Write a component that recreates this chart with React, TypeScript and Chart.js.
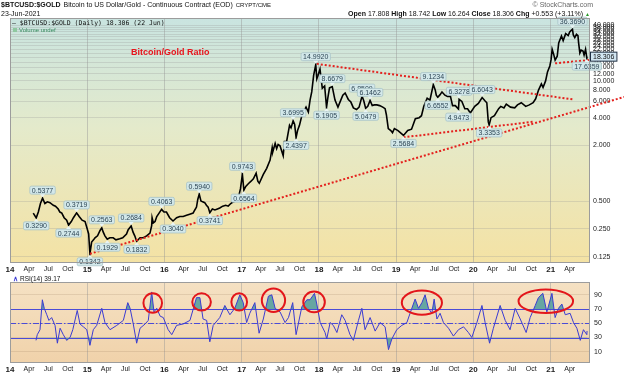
import React, { useEffect, useRef } from 'react';
import { Chart, registerables } from 'chart.js';

Chart.register(...registerables);

const FONT = "'Liberation Sans', Arial, sans-serif";
const MONO = "'DejaVu Sans Mono', 'Liberation Mono', monospace";

// ---------- axis ranges & ticks ----------
const X_START = '2014-01-01';
const X_END = '2021-07-06';
const PRICE_MIN = 0.108;
const PRICE_MAX = 48;
const RSI_MIN = -5.4;
const RSI_MAX = 107.7;

const xTickDates = [
  '2014-01-01', '2014-04-01', '2014-07-01', '2014-10-01',
  '2015-01-01', '2015-04-01', '2015-07-01', '2015-10-01',
  '2016-01-01', '2016-04-01', '2016-07-01', '2016-10-01',
  '2017-01-01', '2017-04-01', '2017-07-01', '2017-10-01',
  '2018-01-01', '2018-04-01', '2018-07-01', '2018-10-01',
  '2019-01-01', '2019-04-01', '2019-07-01', '2019-10-01',
  '2020-01-01', '2020-04-01', '2020-07-01', '2020-10-01',
  '2021-01-01', '2021-04-01',
];
const xTickLabels = [
  '14', 'Apr', 'Jul', 'Oct', '15', 'Apr', 'Jul', 'Oct',
  '16', 'Apr', 'Jul', 'Oct', '17', 'Apr', 'Jul', 'Oct',
  '18', 'Apr', 'Jul', 'Oct', '19', 'Apr', 'Jul', 'Oct',
  '20', 'Apr', 'Jul', 'Oct', '21', 'Apr',
];
const priceTickValues = [0.125, 0.25, 0.5, 2, 4, 6, 8, 10, 12, 14, 16, 18, 20, 22, 24, 26, 28, 30, 32, 34, 36, 38, 40];
const rsiTickValues = [10, 30, 50, 70, 90];

// ---------- price series (BTC / Gold ratio) ----------
const priceDates = [
  '2014-04-21', '2014-05-05', '2014-05-15', '2014-05-25', '2014-06-04', '2014-06-15', '2014-06-27', '2014-07-09',
  '2014-07-25', '2014-08-04', '2014-08-17', '2014-08-25', '2014-09-03', '2014-09-14', '2014-09-26', '2014-10-05',
  '2014-10-18', '2014-10-28', '2014-11-12', '2014-11-24', '2014-12-08', '2014-12-22', '2014-12-30',
  '2015-01-08', '2015-01-14', '2015-01-22', '2015-01-31', '2015-02-07', '2015-02-19', '2015-03-03', '2015-03-11',
  '2015-03-18', '2015-03-26', '2015-04-06', '2015-04-18', '2015-05-04', '2015-05-17', '2015-06-04', '2015-06-18',
  '2015-07-06', '2015-07-14', '2015-07-28', '2015-08-06', '2015-08-14', '2015-08-23', '2015-09-08', '2015-09-24',
  '2015-10-09', '2015-10-25', '2015-11-02', '2015-11-04', '2015-11-10', '2015-11-18', '2015-11-26', '2015-12-07',
  '2015-12-19', '2015-12-30',
  '2016-01-11', '2016-01-26', '2016-02-11', '2016-02-28', '2016-03-14', '2016-03-30', '2016-04-15', '2016-04-30',
  '2016-05-16', '2016-05-24', '2016-06-01', '2016-06-07', '2016-06-14', '2016-06-22', '2016-06-30', '2016-07-10',
  '2016-07-18', '2016-07-26', '2016-08-03', '2016-08-15', '2016-08-27', '2016-09-08', '2016-09-19', '2016-10-03',
  '2016-10-17', '2016-10-29', '2016-11-10', '2016-11-22', '2016-12-05', '2016-12-16', '2016-12-26',
  '2017-01-04', '2017-01-11', '2017-01-20', '2017-02-01', '2017-02-14', '2017-02-25', '2017-03-10', '2017-03-18',
  '2017-03-25', '2017-04-13', '2017-04-29', '2017-05-15', '2017-05-25', '2017-05-28', '2017-06-08', '2017-06-15',
  '2017-06-22', '2017-07-01', '2017-07-16', '2017-07-22', '2017-08-01', '2017-08-15', '2017-08-22', '2017-09-01',
  '2017-09-08', '2017-09-15', '2017-09-22', '2017-10-01', '2017-10-12', '2017-10-20', '2017-11-01', '2017-11-12',
  '2017-11-20', '2017-11-28', '2017-12-07', '2017-12-17', '2017-12-22', '2017-12-28',
  '2018-01-06', '2018-01-17', '2018-01-28', '2018-02-06', '2018-02-12', '2018-02-20', '2018-03-05', '2018-03-18',
  '2018-04-01', '2018-04-12', '2018-04-24', '2018-05-05', '2018-05-20', '2018-06-01', '2018-06-13', '2018-06-28',
  '2018-07-10', '2018-07-24', '2018-08-01', '2018-08-10', '2018-08-20', '2018-08-31', '2018-09-10', '2018-09-20',
  '2018-10-02', '2018-10-15', '2018-10-30', '2018-11-10', '2018-11-16', '2018-11-25', '2018-12-07', '2018-12-15',
  '2018-12-24',
  '2019-01-10', '2019-02-05', '2019-02-25', '2019-03-15', '2019-04-02', '2019-04-20', '2019-05-01', '2019-05-12',
  '2019-05-28', '2019-06-10', '2019-06-26', '2019-07-05', '2019-07-10', '2019-07-17', '2019-07-28', '2019-08-06',
  '2019-08-20', '2019-09-01', '2019-09-15', '2019-09-25', '2019-10-08', '2019-10-23', '2019-10-26', '2019-11-08',
  '2019-11-22', '2019-12-05', '2019-12-18',
  '2020-01-08', '2020-01-25', '2020-02-12', '2020-02-25', '2020-03-05', '2020-03-12', '2020-03-16', '2020-03-25',
  '2020-04-10', '2020-04-30', '2020-05-10', '2020-05-25', '2020-06-05', '2020-06-25', '2020-07-15', '2020-07-28',
  '2020-08-15', '2020-09-05', '2020-09-22', '2020-10-10', '2020-10-22', '2020-11-05', '2020-11-18', '2020-11-26',
  '2020-12-08', '2020-12-17', '2020-12-28',
  '2021-01-03', '2021-01-08', '2021-01-15', '2021-01-22', '2021-02-01', '2021-02-08', '2021-02-21', '2021-03-01',
  '2021-03-13', '2021-03-25', '2021-04-01', '2021-04-14', '2021-04-18', '2021-04-25', '2021-05-03', '2021-05-10',
  '2021-05-13', '2021-05-19', '2021-05-25', '2021-06-03', '2021-06-08', '2021-06-15', '2021-06-21', '2021-06-22',
];
const priceValues = [
  0.37, 0.329, 0.38, 0.47, 0.5377, 0.47, 0.49, 0.48,
  0.45, 0.44, 0.41, 0.38, 0.37, 0.33, 0.31, 0.2744,
  0.30, 0.33, 0.3719, 0.34, 0.31, 0.30, 0.26,
  0.22, 0.1342, 0.18, 0.19, 0.20, 0.21, 0.24, 0.2563,
  0.23, 0.21, 0.1929, 0.20, 0.20, 0.19, 0.195, 0.20,
  0.22, 0.245, 0.2684, 0.23, 0.21, 0.1832, 0.20, 0.20,
  0.21, 0.225, 0.27, 0.33, 0.29, 0.30, 0.34, 0.37,
  0.4063, 0.38,
  0.38, 0.33, 0.304, 0.33, 0.34, 0.34, 0.35, 0.36,
  0.37, 0.40, 0.43, 0.52, 0.594, 0.50, 0.49, 0.48,
  0.45, 0.43, 0.3741, 0.41, 0.40, 0.41, 0.42, 0.44,
  0.45, 0.44, 0.47, 0.49, 0.50, 0.54, 0.68,
  0.9743, 0.6564, 0.72, 0.77, 0.82, 0.87, 1.0, 0.82,
  0.78, 0.97, 1.13, 1.39, 1.90, 1.71, 2.1, 1.85,
  2.05, 1.98, 1.55, 2.2, 2.2, 3.3, 3.1, 3.6995,
  3.4, 2.4397, 2.9, 3.3, 4.2, 4.6, 5.2, 4.6,
  6.2, 7.6, 11.5, 14.992, 10.5, 11.5,
  13.4, 8.3, 8.8, 5.1905, 6.5, 8.4, 8.6679, 6.2,
  5.2, 6.0, 7.0, 7.4, 6.3, 5.9, 5.1, 4.9,
  5.2, 6.8509, 6.1, 5.0479, 5.3, 6.1462, 5.4, 5.5,
  5.5, 5.4, 5.2, 5.0, 4.3, 3.05, 2.9, 2.75,
  3.05,
  2.9, 2.5684, 2.9, 3.0, 3.9, 4.0, 4.2, 5.3,
  6.5, 6.2, 9.1234, 8.0, 7.0, 6.6552, 7.1, 7.6,
  7.0, 6.8, 6.8, 5.4, 5.4, 4.9473, 6.3278, 6.0,
  5.0, 5.0, 4.5,
  5.3, 5.7, 6.6043, 6.1, 5.8, 3.6, 3.3353, 4.0,
  4.2, 5.0, 5.3, 5.1, 5.6, 5.2, 5.1, 5.5,
  5.8, 5.3, 5.5, 5.8, 6.4, 8.0, 9.3, 8.5,
  10.0, 12.5, 14.5,
  17.0, 22.0, 19.5, 16.8, 18.5, 25.8, 30.6, 27.3,
  32.5, 31.0, 34.0, 36.369, 31.5, 29.5, 32.0, 31.0,
  26.0, 20.0, 21.5, 21.0, 19.0, 22.0, 17.6359, 18.306,
];

// ---------- RSI(14) series ----------
const rsiDates = [
  '2014-05-04', '2014-05-10', '2014-05-23', '2014-06-03', '2014-06-12', '2014-06-24', '2014-07-04', '2014-07-17',
  '2014-08-02', '2014-08-13', '2014-08-26', '2014-09-10', '2014-09-26', '2014-10-12', '2014-10-25', '2014-11-15',
  '2014-11-28', '2014-12-14', '2014-12-30',
  '2015-01-14', '2015-01-30', '2015-02-15', '2015-03-11', '2015-03-26', '2015-04-19', '2015-05-21', '2015-06-21',
  '2015-07-12', '2015-07-23', '2015-08-07', '2015-08-23', '2015-09-08', '2015-10-02', '2015-10-17', '2015-11-02',
  '2015-11-13', '2015-11-26', '2015-12-12', '2015-12-27',
  '2016-01-19', '2016-02-05', '2016-02-28', '2016-03-30', '2016-05-01', '2016-06-01', '2016-06-17', '2016-07-02',
  '2016-07-19', '2016-08-03', '2016-08-19', '2016-09-19', '2016-10-13', '2016-11-06', '2016-11-29', '2016-12-23',
  '2017-01-08', '2017-01-24', '2017-02-08', '2017-03-04', '2017-03-24', '2017-04-13', '2017-05-07', '2017-05-23',
  '2017-06-08', '2017-07-01', '2017-07-25', '2017-08-10', '2017-08-30', '2017-09-15', '2017-10-12', '2017-11-05',
  '2017-11-20', '2017-12-11', '2017-12-22',
  '2018-01-07', '2018-01-30', '2018-02-07', '2018-02-23', '2018-03-10', '2018-03-27', '2018-04-19', '2018-05-05',
  '2018-05-28', '2018-06-13', '2018-07-07', '2018-07-23', '2018-08-07', '2018-08-31', '2018-09-24', '2018-10-17',
  '2018-11-10', '2018-11-26', '2018-12-12',
  '2019-01-04', '2019-01-28', '2019-02-21', '2019-03-08', '2019-04-01', '2019-04-17', '2019-05-03', '2019-05-18',
  '2019-06-03', '2019-06-19', '2019-06-30', '2019-07-13', '2019-07-28', '2019-08-13', '2019-09-06', '2019-09-29',
  '2019-10-23', '2019-11-16', '2019-12-09', '2019-12-25',
  '2020-01-18', '2020-02-11', '2020-02-26', '2020-03-18', '2020-04-05', '2020-05-07', '2020-05-31', '2020-06-23',
  '2020-07-17', '2020-08-10', '2020-09-07', '2020-09-26', '2020-10-20', '2020-11-04', '2020-11-25', '2020-12-14',
  '2021-01-07', '2021-01-22', '2021-02-07', '2021-02-23', '2021-03-11', '2021-04-03', '2021-04-19', '2021-05-05',
  '2021-05-21', '2021-06-05', '2021-06-21', '2021-06-22',
];
const rsiValues = [
  26, 34, 41, 83, 71, 62, 54, 58,
  47, 22, 43, 34, 26, 30, 41, 68,
  49, 45, 41,
  19, 41, 47, 71, 51, 41, 47, 54,
  79, 71, 49, 22, 43, 49, 54, 94,
  66, 71, 60, 58,
  41, 34, 47, 49, 54, 86, 86, 56,
  54, 24, 47, 58, 75, 62, 71, 90,
  79, 51, 64, 79, 36, 56, 88, 90,
  71, 66, 51, 58, 79, 34, 73, 83,
  83, 92, 77,
  51, 37, 28, 51, 47, 37, 62, 54,
  34, 26, 54, 71, 41, 58, 39, 51,
  45, 13, 28,
  41, 47, 51, 64, 84, 71, 79, 90,
  71, 64, 84, 56, 64, 51, 43, 32,
  41, 45, 37, 30,
  51, 75, 51, 22, 43, 75, 54, 41,
  71, 56, 37, 58, 75, 86, 92, 66,
  92, 58, 71, 77, 62, 64, 51, 43,
  26, 41, 34, 39.17,
];

// ---------- price tags (peaks / troughs) ----------
const tagDates = [
  '2014-06-04', '2014-05-05', '2014-10-05', '2014-11-12', '2015-01-14', '2015-03-11', '2015-04-06', '2015-07-28',
  '2015-08-23', '2015-12-19', '2016-02-11', '2016-06-14', '2016-08-03', '2017-01-04', '2017-01-11', '2017-09-01',
  '2017-09-15', '2017-12-17', '2018-02-06', '2018-03-05', '2018-07-24', '2018-08-10', '2018-08-31', '2019-02-05',
  '2019-06-26', '2019-07-17', '2019-10-23', '2019-10-26', '2020-02-12', '2020-03-16', '2021-04-14', '2021-06-21',
];
const tagValues = [
  0.5377, 0.329, 0.2744, 0.3719, 0.1342, 0.2563, 0.1929, 0.2684,
  0.1832, 0.4063, 0.304, 0.594, 0.3741, 0.9743, 0.6564, 3.6995,
  2.4397, 14.992, 5.1905, 8.6679, 6.8509, 5.0479, 6.1462, 2.5684,
  9.1234, 6.6552, 4.9473, 6.3278, 6.6043, 3.3353, 36.369, 17.6359,
];
const tagSides = [
  'above', 'below', 'below', 'above', 'below', 'above', 'below', 'above',
  'below', 'above', 'below', 'above', 'below', 'above', 'below', 'above',
  'below', 'above', 'below', 'above', 'above', 'below', 'above', 'below',
  'above', 'below', 'below', 'above', 'above', 'below', 'above', 'below',
];

// ---------- trend lines (start date, start value, end date, end value) ----------
const trendStartDates = ['2017-12-22', '2015-01-14', '2019-02-05', '2021-01-22'];
const trendStartValues = [15.3, 0.1342, 2.45, 15.5];
const trendEndDates = ['2021-04-17', '2021-12-14', '2020-10-12', '2021-08-13'];
const trendEndValues = [6.3, 6.7, 3.62, 17.2];

// ---------- red ellipses on RSI (center date, center RSI, half-width days, half-height RSI) ----------
const circleDates = ['2015-11-07', '2016-06-25', '2016-12-20', '2017-05-31', '2017-12-09', '2019-05-03', '2020-12-09'];
const circleRsi = [78.5, 80, 80, 82.3, 80, 79, 81];
const circleHalfDays = [44, 44, 37, 55, 51, 95, 129];
const circleHalfRsi = [13.7, 12, 12.2, 16.4, 14.5, 17, 16.4];

const LAST_VALUE = 18.306;

// ---------- helpers ----------
const dayOf = (s: string) => {
  const [y, m, d] = s.split('-').map(Number);
  return Date.UTC(y, m - 1, d) / 86400000;
};

const xScale = (height: number) => ({
  type: 'linear' as const,
  min: dayOf(X_START),
  max: dayOf(X_END),
  afterBuildTicks: (scale: any) => {
    scale.ticks = xTickDates.map((d, i) => ({ value: dayOf(d), major: /^\d+$/.test(xTickLabels[i]), label: xTickLabels[i] }));
  },
  afterFit: (scale: any) => {
    scale.height = height;
  },
  ticks: {
    autoSkip: false,
    maxRotation: 0,
    padding: 2,
    color: '#222',
    font: (c: any) => (c.tick && c.tick.major ? { family: FONT, size: 8, weight: 'bold' } : { family: FONT, size: 7 }),
    callback: (_v: any, i: number) => xTickLabels[i],
  },
  grid: {
    color: (c: any) => (c.tick && c.tick.major ? 'rgba(150,150,150,0.45)' : 'rgba(0,0,0,0)'),
    drawTicks: false,
  },
  border: { display: false },
});

const panelPlugin = (stops: [number, string][]) => ({
  id: 'panel',
  beforeDraw(chart: any) {
    const { ctx, chartArea: a, width, height } = chart;
    ctx.save();
    ctx.fillStyle = '#ffffff';
    ctx.fillRect(0, 0, width, height);
    const g = ctx.createLinearGradient(0, a.top, 0, a.bottom);
    stops.forEach(([o, c]) => g.addColorStop(o, c));
    ctx.fillStyle = g;
    ctx.fillRect(a.left, a.top, a.right - a.left, a.bottom - a.top);
    ctx.restore();
  },
  afterDraw(chart: any) {
    const { ctx, chartArea: a } = chart;
    ctx.save();
    ctx.strokeStyle = '#9c9c9c';
    ctx.lineWidth = 1;
    ctx.strokeRect(Math.round(a.left) + 0.5, Math.round(a.top) + 0.5, Math.round(a.right - a.left) - 1, Math.round(a.bottom - a.top) - 1);
    ctx.restore();
  },
});

const roundRect = (ctx: CanvasRenderingContext2D, x: number, y: number, w: number, h: number, r: number) => {
  ctx.beginPath();
  ctx.moveTo(x + r, y);
  ctx.lineTo(x + w - r, y);
  ctx.quadraticCurveTo(x + w, y, x + w, y + r);
  ctx.lineTo(x + w, y + h - r);
  ctx.quadraticCurveTo(x + w, y + h, x + w - r, y + h);
  ctx.lineTo(x + r, y + h);
  ctx.quadraticCurveTo(x, y + h, x, y + h - r);
  ctx.lineTo(x, y + r);
  ctx.quadraticCurveTo(x, y, x + r, y);
  ctx.closePath();
};

const tagPlugin = {
  id: 'tags',
  afterDatasetsDraw(chart: any) {
    const { ctx, scales } = chart;
    ctx.save();
    ctx.font = `7px ${FONT}`;
    ctx.textAlign = 'center';
    ctx.textBaseline = 'middle';
    tagDates.forEach((d, i) => {
      const px = scales.x.getPixelForValue(dayOf(d));
      const py = scales.y.getPixelForValue(tagValues[i]);
      const text = tagValues[i].toFixed(4);
      const w = ctx.measureText(text).width + 4;
      const h = 8;
      const below = tagSides[i] === 'below';
      const by = below ? py + 4 : py - 4 - h;
      const bx = px - w / 2;
      ctx.fillStyle = '#d3e8ea';
      ctx.strokeStyle = '#a8c4c8';
      ctx.lineWidth = 0.8;
      roundRect(ctx, bx, by, w, h, 1.5);
      ctx.fill();
      ctx.stroke();
      ctx.beginPath();
      if (below) {
        ctx.moveTo(px - 2.5, by);
        ctx.lineTo(px + 2.5, by);
        ctx.lineTo(px, by - 3);
      } else {
        ctx.moveTo(px - 2.5, by + h);
        ctx.lineTo(px + 2.5, by + h);
        ctx.lineTo(px, by + h + 3);
      }
      ctx.closePath();
      ctx.fillStyle = '#e9f4f5';
      ctx.fill();
      ctx.fillStyle = '#2e4655';
      ctx.fillText(text, px, by + h / 2 + 0.5);
    });
    // last value box on the price axis
    const ly = scales.y.getPixelForValue(LAST_VALUE);
    const lx = chart.chartArea.right;
    const lt = LAST_VALUE.toFixed(3);
    const lw = ctx.measureText(lt).width + 5;
    ctx.fillStyle = '#d2e6f2';
    ctx.strokeStyle = '#1f2f44';
    ctx.lineWidth = 1;
    ctx.fillRect(lx, ly - 4.5, lw, 9);
    ctx.strokeRect(lx + 0.5, ly - 4.5, lw, 9);
    ctx.fillStyle = '#111';
    ctx.fillText(lt, lx + lw / 2 + 0.5, ly + 0.5);
    ctx.restore();
  },
};

const rsiPlugin = {
  id: 'rsiMarks',
  beforeDatasetsDraw(chart: any) {
    const { ctx, scales, chartArea: a } = chart;
    ctx.save();
    ctx.strokeStyle = '#4b4bd6';
    ctx.lineWidth = 1;
    [70, 30].forEach((v) => {
      const y = Math.round(scales.y.getPixelForValue(v)) + 0.5;
      ctx.beginPath();
      ctx.moveTo(a.left, y);
      ctx.lineTo(a.right, y);
      ctx.stroke();
    });
    const y50 = Math.round(scales.y.getPixelForValue(50)) + 0.5;
    ctx.setLineDash([6, 2, 1.5, 2]);
    ctx.beginPath();
    ctx.moveTo(a.left, y50);
    ctx.lineTo(a.right, y50);
    ctx.stroke();
    ctx.restore();
  },
  afterDatasetsDraw(chart: any) {
    const { ctx, scales } = chart;
    ctx.save();
    ctx.strokeStyle = '#e3161b';
    ctx.lineWidth = 2;
    circleDates.forEach((d, i) => {
      const cx = scales.x.getPixelForValue(dayOf(d));
      const cy = scales.y.getPixelForValue(circleRsi[i]);
      const rx = Math.abs(scales.x.getPixelForValue(dayOf(d) + circleHalfDays[i]) - cx);
      const ry = Math.abs(scales.y.getPixelForValue(circleRsi[i] + circleHalfRsi[i]) - cy);
      ctx.beginPath();
      ctx.ellipse(cx, cy, rx, ry, 0, 0, Math.PI * 2);
      ctx.stroke();
    });
    ctx.restore();
  },
};

export default function App() {
  const mainRef = useRef<HTMLCanvasElement>(null);
  const rsiRef = useRef<HTMLCanvasElement>(null);

  useEffect(() => {
    const priceData = priceDates.map((d, i) => ({ x: dayOf(d), y: priceValues[i] }));
    const trendSets = trendStartDates.map((d, i) => ({
      data: [
        { x: dayOf(d), y: trendStartValues[i] },
        { x: dayOf(trendEndDates[i]), y: trendEndValues[i] },
      ],
      borderColor: '#e4201d',
      borderWidth: 2,
      borderDash: [2, 2],
      borderCapStyle: 'butt',
      pointRadius: 0,
      clip: false as any,
      order: 0,
    }));

    const main = new Chart(mainRef.current as HTMLCanvasElement, {
      type: 'line',
      data: {
        datasets: [
          { data: priceData, borderColor: '#000', borderWidth: 1.6, pointRadius: 0, tension: 0, order: 5 } as any,
          ...(trendSets as any[]),
        ],
      },
      options: {
        responsive: false,
        animation: false,
        devicePixelRatio: 1,
        layout: { padding: { left: 10, top: 18, right: 0, bottom: 0 } },
        plugins: { legend: { display: false }, tooltip: { enabled: false } },
        scales: {
          x: xScale(11.5) as any,
          y: {
            type: 'logarithmic',
            position: 'right',
            min: PRICE_MIN,
            max: PRICE_MAX,
            afterBuildTicks: (s: any) => {
              s.ticks = priceTickValues.map((v) => ({ value: v }));
            },
            afterFit: (s: any) => {
              s.width = 34;
            },
            ticks: {
              autoSkip: false,
              padding: 3,
              color: '#222',
              font: { family: FONT, size: 7 },
              callback: (v: any) => Number(v).toFixed(3),
            },
            grid: { color: 'rgba(150,150,150,0.28)', drawTicks: false },
            border: { display: false },
          } as any,
        },
      },
      plugins: [panelPlugin([[0, '#c9e4e0'], [0.45, '#e4eacb'], [1, '#f4e2a4']]), tagPlugin],
    });

    const rsiData = rsiDates.map((d, i) => ({ x: dayOf(d), y: rsiValues[i] }));
    const rsi = new Chart(rsiRef.current as HTMLCanvasElement, {
      type: 'line',
      data: {
        datasets: [
          {
            data: rsiData,
            borderColor: '#3b3bd2',
            borderWidth: 1,
            pointRadius: 0,
            tension: 0,
            fill: { target: { value: 70 }, above: 'rgba(86,160,158,0.9)', below: 'rgba(0,0,0,0)' },
          } as any,
          {
            data: rsiData,
            borderColor: 'rgba(0,0,0,0)',
            borderWidth: 0,
            pointRadius: 0,
            tension: 0,
            fill: { target: { value: 30 }, above: 'rgba(0,0,0,0)', below: 'rgba(86,160,158,0.9)' },
          } as any,
        ],
      },
      options: {
        responsive: false,
        animation: false,
        devicePixelRatio: 1,
        layout: { padding: { left: 10, top: 0.5, right: 0, bottom: 0 } },
        plugins: { legend: { display: false }, tooltip: { enabled: false } },
        scales: {
          x: xScale(10.3) as any,
          y: {
            type: 'linear',
            position: 'right',
            min: RSI_MIN,
            max: RSI_MAX,
            afterBuildTicks: (s: any) => {
              s.ticks = rsiTickValues.map((v) => ({ value: v }));
            },
            afterFit: (s: any) => {
              s.width = 34;
            },
            ticks: { autoSkip: false, padding: 4, color: '#222', font: { family: FONT, size: 7 } },
            grid: { color: 'rgba(160,130,100,0.22)', drawTicks: false },
            border: { display: false },
          } as any,
        },
      },
      plugins: [panelPlugin([[0, '#f5e1c3'], [1, '#f0d2aa']]), rsiPlugin],
    });

    return () => {
      main.destroy();
      rsi.destroy();
    };
  }, []);

  const abs = (style: React.CSSProperties): React.CSSProperties => ({
    position: 'absolute',
    whiteSpace: 'nowrap',
    lineHeight: 1,
    fontFamily: FONT,
    ...style,
  });

  return (
    <div style={{ position: 'fixed', left: 0, top: 0, width: 624, height: 373, background: '#fff', overflow: 'hidden' }}>
      <canvas ref={mainRef} width={624} height={274} style={{ position: 'absolute', left: 0, top: 0 }} />
      <canvas ref={rsiRef} width={624} height={99} style={{ position: 'absolute', left: 0, top: 274 }} />

      <div style={abs({ left: 1, top: 0.5, fontSize: 7, color: '#111' })}>
        <span style={{ fontWeight: 'bold', fontSize: 7 }}>$BTCUSD:$GOLD</span>
        <span style={{ marginLeft: 3 }}>Bitcoin to US Dollar/Gold - Continuous Contract (EOD)</span>
        <span style={{ marginLeft: 3, fontSize: 6 }}>CRYPT/CME</span>
      </div>
      <div style={abs({ left: 1, top: 9.5, fontSize: 7, color: '#111' })}>23-Jun-2021</div>
      <div style={abs({ right: 31, top: 1, fontSize: 7, color: '#666' })}>© StockCharts.com</div>
      <div style={abs({ right: 34, top: 10, fontSize: 7, color: '#111' })}>
        <b>Open</b> 17.808 <b>High</b> 18.742 <b>Low</b> 16.264 <b>Close</b> 18.306 <b>Chg</b> +0.553 (+3.11%)
        <span style={{ color: '#2a9a2a', fontSize: 5, marginLeft: 2 }}>▲</span>
      </div>

      <div style={abs({ left: 12, top: 19.5, fontSize: 6.5, fontFamily: MONO, color: '#111' })}>
        — $BTCUSD:$GOLD (Daily) 18.306 (22 Jun)
      </div>
      <div style={abs({ left: 13, top: 27, fontSize: 6, color: '#3a8f62' })}>
        <span style={{ display: 'inline-block', width: 4, height: 4, background: '#8fc8a0', marginRight: 2 }} />
        Volume undef
      </div>
      <div style={abs({ left: 131, top: 48, fontSize: 9, fontWeight: 'bold', color: '#e8141c' })}>Bitcoin/Gold Ratio</div>

      <div style={abs({ left: 13, top: 276, fontSize: 6.5, color: '#111' })}>
        <span style={{ color: '#3b3bd2', fontWeight: 'bold', marginRight: 2 }}>∧</span>
        RSI(14) 39.17
      </div>
    </div>
  );
}
